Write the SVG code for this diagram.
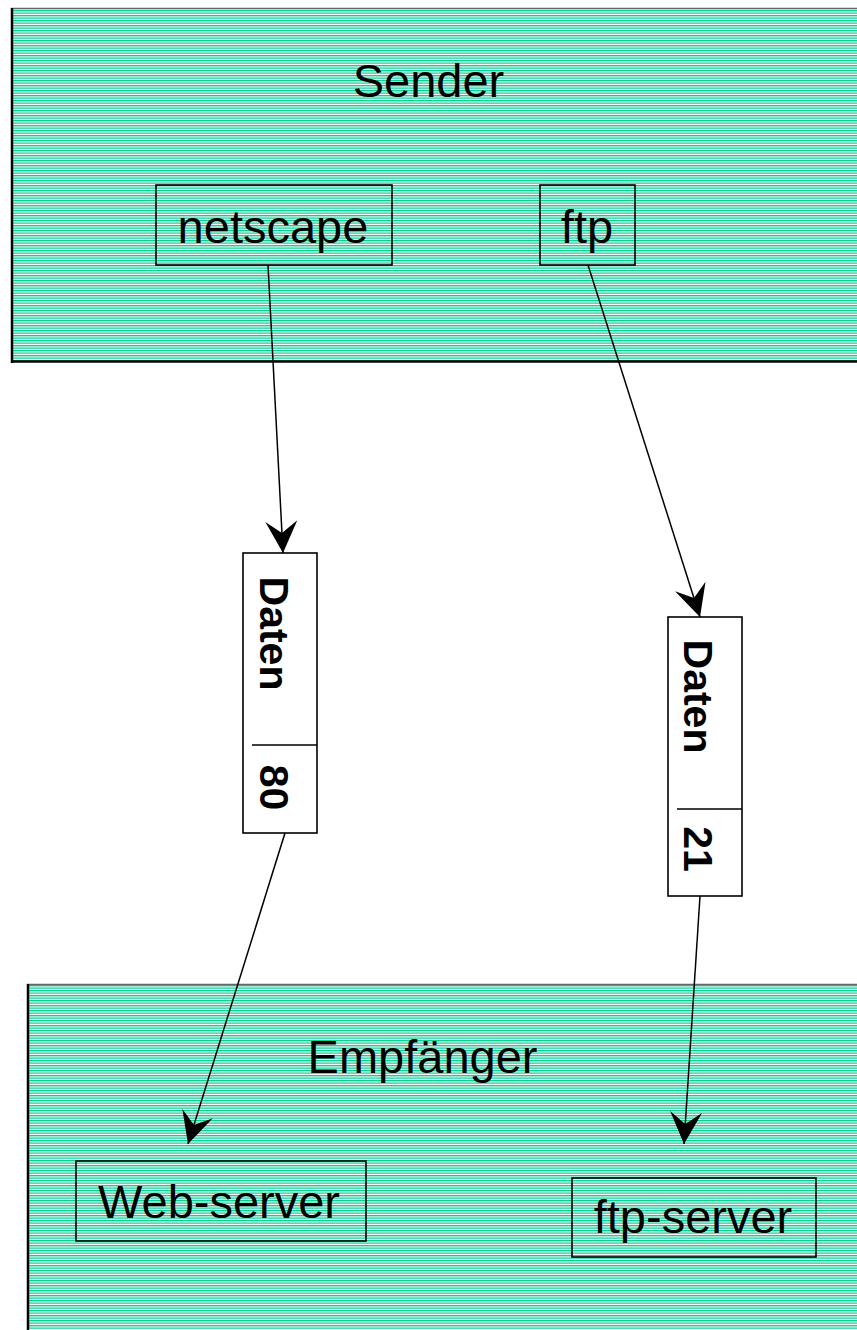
<svg xmlns="http://www.w3.org/2000/svg" width="857" height="1330" viewBox="0 0 857 1330">
<defs>
<pattern id="hatch" patternUnits="userSpaceOnUse" x="0" y="0" width="20" height="2.5">
<rect x="0" y="0" width="20" height="1.3" fill="#00cf8f"/>
</pattern>
<marker id="ah" markerUnits="userSpaceOnUse" markerWidth="36" markerHeight="36" viewBox="-34 -18 36 36" refX="0" refY="0" orient="auto">
<path d="M0,0 L-32,-16 L-20,0 L-32,16 Z" fill="#000"/>
</marker>
</defs>
<style>
.t{font-family:"Liberation Sans",Arial,sans-serif;font-size:47px;fill:#000;text-anchor:middle}
.b{font-family:"Liberation Sans",Arial,sans-serif;font-size:41px;font-weight:bold;fill:#000;text-anchor:middle}
.box{fill:none;stroke:#000;stroke-width:1.6}
.pkt{fill:#fff;stroke:#000;stroke-width:1.6}
.edge{fill:none;stroke:#000;stroke-width:1.5}
.dk{stroke:#000;stroke-width:2.5}
.gr{stroke:#666;stroke-width:1.5}
</style>
<g id="sender">
<rect x="12" y="8.5" width="860" height="353" fill="url(#hatch)"/>
<line class="gr" x1="11" y1="8.5" x2="857" y2="8.5"/>
<line class="dk" x1="12" y1="8" x2="12" y2="363"/>
<line class="dk" x1="11" y1="361.5" x2="857" y2="361.5"/>
<text class="t" x="428.5" y="97">Sender</text>
</g>
<g id="empfaenger">
<rect x="28" y="984.5" width="840" height="360" fill="url(#hatch)"/>
<line class="gr" x1="27" y1="984.5" x2="857" y2="984.5"/>
<line class="dk" x1="28" y1="984" x2="28" y2="1330"/>
<text class="t" x="422.5" y="1073">Empfänger</text>
</g>
<g id="netscape">
<rect class="box" x="156" y="185" width="236" height="80"/>
<text class="t" x="273" y="243">netscape</text>
</g>
<g id="ftp">
<rect class="box" x="540" y="185" width="95" height="80"/>
<text class="t" x="587" y="243">ftp</text>
</g>
<g id="packet80">
<rect class="pkt" x="243" y="553" width="74" height="280"/>
<line class="edge" x1="252" y1="745" x2="317" y2="745"/>
<text class="b" transform="translate(260,633.5) rotate(90)">Daten</text>
<text class="b" transform="translate(260,787.5) rotate(90)">80</text>
</g>
<g id="packet21">
<rect class="pkt" x="668" y="617" width="74" height="279"/>
<line class="edge" x1="677" y1="809" x2="742" y2="809"/>
<text class="b" transform="translate(684,696.5) rotate(90)">Daten</text>
<text class="b" transform="translate(684,849) rotate(90)">21</text>
</g>
<g id="webserver">
<rect class="box" x="76" y="1161" width="290" height="80"/>
<text class="t" x="219" y="1218">Web-server</text>
</g>
<g id="ftpserver">
<rect class="box" x="572" y="1178" width="244" height="79"/>
<text class="t" x="693" y="1233">ftp-server</text>
</g>
<g id="connectors">
<line class="edge" x1="268" y1="265" x2="283" y2="553" marker-end="url(#ah)"/>
<line class="edge" x1="588" y1="265" x2="700" y2="617" marker-end="url(#ah)"/>
<line class="edge" x1="285" y1="833" x2="188" y2="1144" marker-end="url(#ah)"/>
<line class="edge" x1="700" y1="896" x2="684" y2="1144" marker-end="url(#ah)"/>
</g>
</svg>
